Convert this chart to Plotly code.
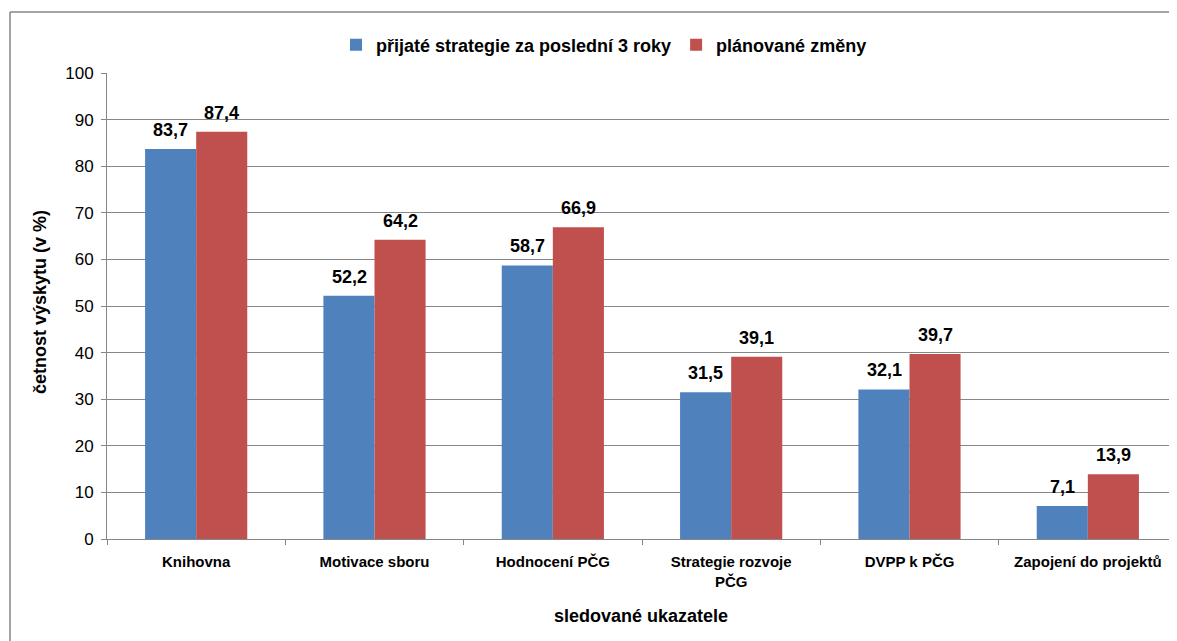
import plotly.graph_objects as go

categories = ["Knihovna", "Motivace sboru", "Hodnocení PČG", "Strategie rozvoje<br>PČG", "DVPP k PČG", "Zapojení do projektů"]
series_names = ["přijaté strategie za poslední 3 roky", "plánované změny"]
adopted = [83.7, 52.2, 58.7, 31.5, 32.1, 7.1]
planned = [87.4, 64.2, 66.9, 39.1, 39.7, 13.9]
y_ticks = [0, 10, 20, 30, 40, 50, 60, 70, 80, 90, 100]
x_title = "sledované ukazatele"
y_title = "četnost výskytu (v %)"

colors = ["#4F81BD", "#C0504D"]
font = "Liberation Sans, Arial, sans-serif"
gray = "#868686"

def fmt(v):
    return f"{v:.1f}".replace(".", ",")

# page has an 8px body margin, so figure coordinates = reference - 8
W, H = 1169, 633
L, R, T, B = 99, 0, 65, 102
pw = W - L - R
ph = H - T - B

def px(x):
    return (x - 8 - L) / pw

def py(y):
    return (H - B - (y - 8)) / ph

fig = go.Figure()
for name, vals, col in zip(series_names, [adopted, planned], colors):
    fig.add_trace(go.Bar(x=categories, y=vals, name=name, marker_color=col, marker_line_width=0))

bar_px = 51
annotations = []
for vals, shift in [(adopted, -bar_px / 2), (planned, bar_px / 2)]:
    for c, v in zip(categories, vals):
        annotations.append(dict(
            x=c, y=v, xref="x", yref="y", text=fmt(v), showarrow=False,
            xshift=shift, yshift=7, yanchor="bottom", xanchor="center",
            font=dict(family=font, size=18, color="black", weight="bold"),
        ))
annotations.append(dict(
    x=px(641), y=py(616), xref="paper", yref="paper", text=x_title, showarrow=False,
    xanchor="center", yanchor="middle", font=dict(family=font, size=18, color="black", weight="bold"),
))
annotations.append(dict(
    x=px(40), y=py(302), xref="paper", yref="paper", text=y_title, showarrow=False, textangle=-90,
    xanchor="center", yanchor="middle", font=dict(family=font, size=18, color="black", weight="bold"),
))

fig.update_layout(
    width=W, height=H,
    margin=dict(l=L, r=R, t=T, b=B),
    paper_bgcolor="white", plot_bgcolor="white",
    barmode="group", bargap=0.427, bargroupgap=0,
    font=dict(family=font, color="black"),
    showlegend=True,
    legend=dict(orientation="h", x=px(604), xanchor="center", y=py(45), yanchor="middle",
                font=dict(family=font, size=18, weight="bold"), traceorder="normal",
                itemwidth=30, tracegroupgap=0),
    xaxis=dict(
        showline=True, linecolor=gray, linewidth=1,
        ticks="outside", tickson="boundaries", ticklen=5, tickcolor=gray,
        tickfont=dict(family=font, size=15, weight="bold"), ticklabelstandoff=9,
        range=[-0.5, 5.5],
    ),
    yaxis=dict(
        range=[0, 100], tickvals=y_ticks, showline=True, linecolor=gray, linewidth=1,
        ticks="outside", ticklen=5, tickcolor=gray,
        showgrid=True, gridcolor=gray, gridwidth=1,
        tickfont=dict(family=font, size=17), ticklabelstandoff=4,
        zeroline=False,
    ),
    annotations=annotations,
    shapes=[
        dict(type="line", xref="paper", yref="paper", x0=px(10), x1=px(10), y0=py(12), y1=py(660),
             line=dict(color=gray, width=1.5)),
        dict(type="line", xref="paper", yref="paper", x0=px(10), x1=px(1176), y0=py(12), y1=py(12),
             line=dict(color=gray, width=1.5)),
        dict(type="line", xref="paper", yref="paper", x0=px(1176), x1=px(1176), y0=py(12), y1=py(660),
             line=dict(color=gray, width=1.5)),
    ],
)

fig.write_html("out.html")
